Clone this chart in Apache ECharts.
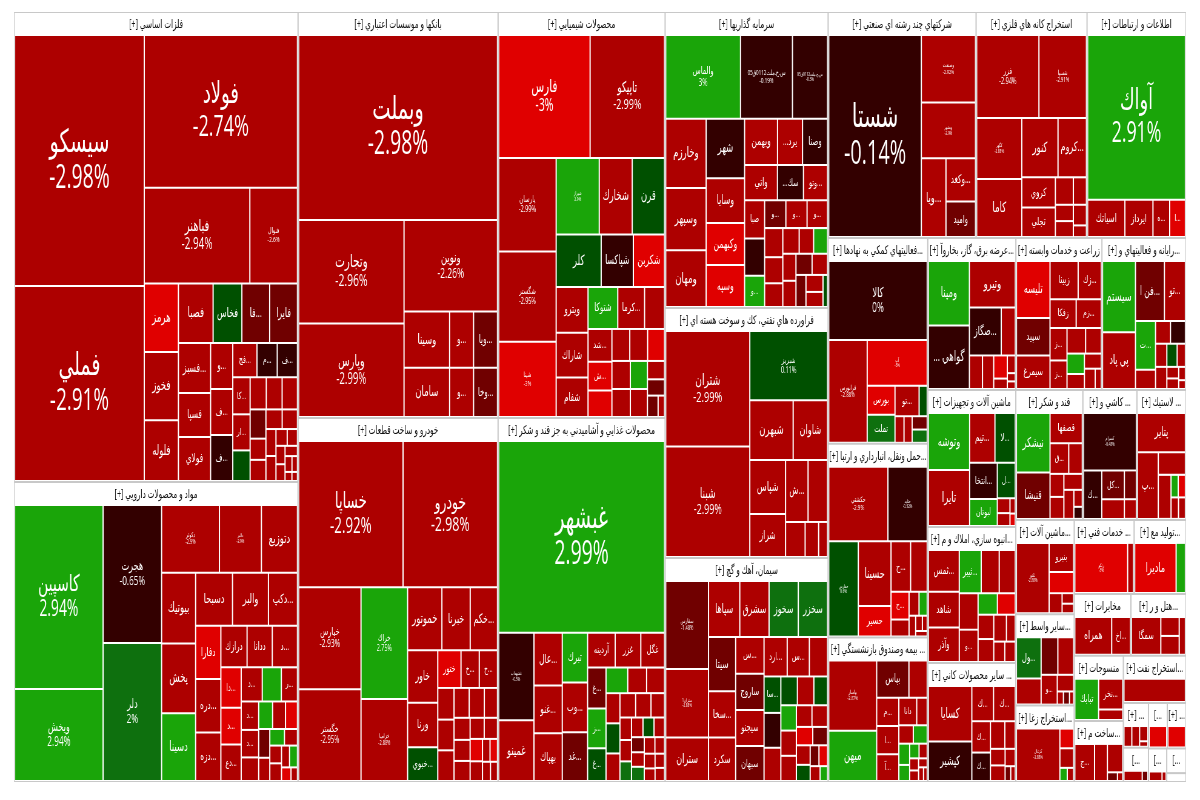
<!DOCTYPE html>
<html>
<head>
<meta charset="utf-8">
<title>نقشه بازار</title>
<script src="https://cdn.jsdelivr.net/npm/echarts@6/dist/echarts.min.js"></script>
<style>
  html, body { margin: 0; padding: 0; background: #fff; overflow: hidden; }
  /* the map was laid out wide and then squeezed, so draw it wide and squeeze it too */
  #chart { width: 1980px; height: 800px; transform: scaleX(0.60606); transform-origin: 0 0; }
</style>
</head>
<body>
<div id="chart"></div>
<script>
const metalsNames = ['سيسكو','فملي','فولاد','فباهنر','فنوال','هرمز','فخوز','فلوله','فصبا','فخاس','فا...','فايرا','فسبز...','فسپا','فولاي','و...','ف...','ف...','فج...','م...','ف...','كا...','ار...','','','','','','','','','','','','','','','','','','','',''];
const metalsValues = [32900,25500,23560,10070,4465,2244,2243,1980,1972,1624,1566,1565,1520,1333,1332,945,944,943,759,627,626,578,561,470,460,450,434,405,285,284,270,252,225,207,150,135,130,117,95,80,60,40,30];
const metalsChanges = [-2.98,-2.91,-2.74,-2.94,-2.6,-3,-2.9,-2.9,-2.9,0.5,-1.5,-1.5,-2.9,-2.9,-2.9,-2.9,-2.9,-0.5,-2.9,-0.5,-0.5,-2.9,-2.9,0.5,-2.9,-2.9,-2.9,-1.5,-2.9,-2.9,-2.9,-2.9,-2.9,-2.9,-2.9,-2.9,-2.9,-2.9,-2.9,-2.9,-2.9,-2.9,-2.9];

const pharmaNames = ['كاسپين','ويخش','هجرت','دلر','دكوثر','دالبر','دتوزيع','بيوتيك','پخش','دسينا','دسبحا','والبر','دكپ...','دفارا','دره...','دزه...','درازك','ددانا','د...','دا...','د...','دع...','د...','','ر...','د...','د...','','','','','','','','','','','','','',''];
const pharmaValues = [16104,7960,7900,7888,3762,2706,2310,2277,2244,2178,1836,1785,1428,1248,1247,1128,1000,960,959,741,665,664,640,576,480,432,416,352,325,300,275,266,210,196,171,165,164,135,133,95,60];
const pharmaChanges = [2.94,2.94,-0.65,2,-2.9,-2.9,-2.9,-2.9,-2.9,2.9,-2.9,-2.9,-2.9,-3,-2.9,-2.9,-2.9,-2.9,-2.9,-3,-3,-2.9,-2.9,2.9,-2.9,-2.9,-2.9,-2.9,2.9,-2.9,-3,-1.5,-2.9,2.9,-2.9,-2.9,-2.9,-2.9,2.9,-3,-2.9];

const banksNames = ['وبملت','وتجارت','وپارس','ونوين','وسينا','سامان','و...','و...','ويا...','وخا...'];
const banksValues = [36640,10710,9660,8372,2430,2115,1242,1081,1241,1080];
const banksChanges = [-2.98,-2.96,-2.99,-2.26,-2.9,-2.9,-2.9,-2.9,-1.5,-1.5];

const carsNames = ['خساپا','خودرو','خپارس','خگستر','خراك','خزاميا','خموتور','خبرنا','خكم...','خاور','ورنا','خبوي...','ختور','خ...','خ...','','','','','','','','','','','','','','','','',''];
const carsValues = [15141,13671,6200,5580,5060,3680,2046,1674,1612,1479,1247,928,792,612,611,450,435,434,392,391,336,300,285,270,247,231,228,198,133,132,117,100];
const carsChanges = [-2.92,-2.98,-2.93,-2.95,2.75,-2.88,-2.9,-2.9,-2.9,-2.9,-2.9,0.5,-3,-2.9,-2.9,-2.9,-2.9,-2.9,-2.9,-2.9,-2.9,-2.9,-2.9,-2.9,-2.9,-2.9,-3,-2.9,-2.9,-3,-2.9,-2.9];

const chemNames = ['فارس','تاپيكو','پارسان','شگستر','شپنا','شيراز','شخارك','قرن','كلر','شپاكسا','شكربن','ويترو','شاراك','شفام','شتوكا','كرما...','','شد...','ش...','','','','','','','','','','','',''];
const chemValues = [10890,8833,5115,4950,4100,3100,2350,2300,2200,1550,1500,1333,1302,1140,1130,1014,741,690,598,552,493,492,464,442,441,408,407,256,224,180,100];
const chemChanges = [-3,-2.99,-2.99,-2.95,-3,2.9,-2.9,0.5,0.5,-0.5,-3,-2.9,-2.9,-2.9,2.9,-2.9,-2.9,-2.9,-3,-3,-2.9,-2.9,-3,-2.9,-2.9,2.9,-2.9,-2.9,-1.5,-1.5,-2.9];

const foodNames = ['غبشهر','غشهداب','غمينو','عال...','غنو...','بهپاك','تبرك','غد...','وب...','آردينه','غزر','غگل','غ...','ز...','غ...','','','','','','','','','','','','','','','','','','','','','','','',''];
const foodValues = [31488,2924,2006,1377,1242,1241,1152,1128,1151,864,800,736,670,650,527,483,414,391,357,356,315,273,210,323,322,198,180,171,180,144,162,150,120,135,140,100,99,120,90];
const foodChanges = [2.99,-0.5,-2.9,-2.9,-2.9,-2.9,2.9,-1.5,-2.9,-2.9,-2.9,-2.9,-1.5,2.9,0.5,2.9,-2.9,-2.9,-2.9,0.5,-2.9,-2.9,-2.9,-2.9,-2.9,-2.9,-2.9,0.5,2,-2.9,-2.9,-1.5,-2.9,-2.9,2,-2.9,-2.9,-2.9,-2.9];

const investNames = ['والماس','س.ح.ملت0112ق05','س.ج.ملت0112ق05','وخارزم','وسپهر','ومهان','شهر','وسايا','وكبهمن','وسپه','وبهمن','...يرد','وصنا','واتي','...سك','وتو...','صبا','','و...','و...','و...','و...','','','','','','','','','','','','','',''];
const investValues = [6068,4182,2788,2652,2379,2160,2150,1600,1500,1499,1408,1056,1055,1054,825,759,684,665,551,520,519,500,459,408,357,368,299,298,312,288,285,266,272,208,238,108];
const investChanges = [3,-0.19,-0.3,-2.9,-2.9,-2.9,-0.5,-2.9,-3,-3,-2.9,-2.9,-0.5,-2.9,-0.5,-2.9,-2.9,-0.5,2.9,-1.5,-2.9,-2.9,-2.9,-2.9,-2.9,-2.9,2.9,-2.9,-2.4,-2.9,-1.5,-1.5,-2.9,-2.9,-2.9,0.5];

const oilNames = ['شتران','شبنا','شبريز','شبهرن','شاوان','شپاس','شراز','ش...','','','',''];
const oilValues = [9296,8881,5092,2394,1881,1768,1394,1260,1080,594,399,252];
const oilChanges = [-2.99,-2.99,0.11,-2.9,-2.9,-2.9,-2.9,-2.9,-2.9,-2.9,-2.9,-2.9];

const cementNames = ['سفارس','ستران1','ستران','سپاها','سشرق','سخوز','سخزر','سيتا','سخا...','سكرد','س...','ساروج','سيجنو','سبهان','ارد...','س...','','سا...','','','','','','','','','','','','','','','','','',''];
const cementValues = [3654,2814,1764,1650,1540,1539,1538,1378,1170,1092,960,950,940,910,836,798,646,546,520,494,416,415,338,337,336,335,286,285,252,180,144,224,140,112,223,80];
const cementChanges = [-1.48,-2.88,-2.9,-2.9,-2.9,2,2,-1.5,-2.9,-2.9,-2.9,-1.5,-2.9,-1.5,-2.9,-2.9,-2.9,0.5,-0.5,-2.9,0.5,-2.9,0.5,2.9,-2.9,-2.9,-2.9,-2.9,-3,0.5,-1.5,-1.5,-3,-2.9,-2.9,2.9];

const multiNames = ['شستا','وصنعت','وبشهر','ويا...','وكغد...','واميد'];
const multiValues = [18473,3498,2862,1817,1176,952];
const multiChanges = [-0.14,-2.92,-2.9,-2.9,-2.9,-1.5];

const oresNames = ['فزر','شسپا','كگهر','كاما','كنور','كروم...','كروي','تجلي','','','','','',''];
const oresValues = [5146,3901,2700,2565,2088,1624,950,930,442,312,250,245,228,120];
const oresChanges = [-2.94,-2.91,-2.88,-2.9,-2.9,-2.9,-2.9,-2.9,-2.9,-2.9,-2.9,-2.9,-2.9,-2.9];

const ictNames = ['آواك','اسياتك','ايرداز','ه...','ا...'];
const ictValues = [15604,1260,936,540,504];
const ictChanges = [2.91,-2.9,-2.9,-2.9,-3];

const auxNames = ['كالا','فرابورس','آپ','بورس','تو...','','تملت','','','',''];
const auxValues = [8000,4000,2750,760,690,210,740,205,182,168,167];
const auxChanges = [0,-2.88,-3,-3,-2.9,0.5,2,-2.9,-2.9,-1.5,2];

const transportNames = ['حكشتي','حتايد','حفارس','حسينا','حسير','ح...','','ح...','','','','','','',''];
const transportValues = [4234,2774,2668,1984,905,895,750,432,252,192,153,102,72,48,40];
const transportChanges = [-2.9,-0.52,0.6,-2.9,-3,-2.9,-2.9,-3,-2.9,-2.9,2.9,-2.9,-2.9,-2.9,-2.9];

const insuranceNames = ['بپاسار','ميهن','بپاس','','م...','ا...','آ...','دانا','','','','','','','','','','','',''];
const insuranceValues = [3264,2304,1116,612,560,559,525,432,240,220,210,187,136,104,88,78,66,52,44,30];
const insuranceChanges = [-2.87,2.9,-1.5,-2.9,-2.9,-2.9,-2.9,-2.9,-2.9,-2.9,2.9,2.9,2.9,2.9,-2.9,-2.9,-2.9,-2.9,-2.9,-2.9];

const powerNames = ['ومپنا','... گواهي','وتيرو','صگاز...','','','','','','','',''];
const powerValues = [2418,2379,1935,1364,572,363,306,252,102,101,40,36];
const powerChanges = [2.9,-0.5,-2.9,-0.5,-2.9,-2.9,-2.9,-3,-2.9,-2.9,-2.9,-2.9];

const farmNames = ['تليسه','سپيد','سيمرغ','زبينا','زك...','زفكا','زم...','ز...','ز...','','','','','','',''];
const farmValues = [1728,1120,992,945,770,650,624,465,405,396,330,288,200,205,168,88];
const farmChanges = [-3,-1.5,-2.9,-2.9,-2.9,-2.9,-2.9,-2.9,-2.9,-2.9,-2.9,2.9,-2.9,-2.9,-2.9,-2.9];

const itNames = ['سيستم','پي پاد','فن ا...','تو...','ت...','','','','','','','','','','',''];
const itValues = [2176,1728,1596,1140,874,323,280,279,210,200,189,147,100,90,60,36];
const itChanges = [2.9,-2.9,-1.5,-2.9,2.9,-2.9,-2.9,-0.5,-2.9,-2.9,0.5,-2.9,-2.9,-2.9,-2.9,-2.9];

const machinesNames = ['وتوشه','تايرا','تيم...','لا...','انتخا...','ل...','لبوتان','','','',''];
const machinesValues = [2160,2120,1128,893,884,544,650,143,121,52,40];
const machinesChanges = [2.9,-2.9,-2.9,0.5,-0.5,0.5,2.9,-2.9,-2.9,-2.9,-3];

const housingNames = ['ثمس...','شاهد','وآذر','ثبير...','','','','و...','','','','','','','',''];
const housingValues = [1131,957,928,819,663,585,578,510,336,308,307,288,272,180,171,160];
const housingChanges = [-2.9,-2.9,-2.9,2.9,-2.9,-2.9,-2.9,-2.9,2.9,-3,-2.9,-2.9,-2.9,-2.9,-2.9,-2.9];

const mineralsNames = ['كسايا','كپشير','ك...','ك...','ك...','ك...','','','','','','',''];
const mineralsValues = [2268,1596,680,679,510,459,338,234,195,182,135,56,42];
const mineralsChanges = [-2.9,-0.5,-2.9,-2.9,-2.9,-0.5,-2.9,-2.9,-2.9,-2.9,-2.9,-1.5,-2.9];

const sugarNames = ['نيشكر','قنيشا','قصفها','ق...','','','','','','',''];
const sugarValues = [1848,1419,868,493,348,260,247,238,234,105,70];
const sugarChanges = [2.9,-1.5,-2.9,-2.9,-2.9,-2.9,-2.9,-2.9,-2.9,-2.9,-0.5];

const tilesNames = ['كسرام','ك...','كل...','','',''];
const tilesValues = [2860,792,572,374,286,187];
const tilesChanges = [-0.48,-0.5,-1.5,-2.9,-1.5,-2.9];

const rubberNames = ['پتاير','پ...','','','','','',''];
const rubberValues = [1702,1240,525,475,120,119,118,108];
const rubberChanges = [-2.9,-2.9,-2.9,-2.9,2.9,-3,-2.9,-2.9];

const toolsNames = ['تكنو','بنيرو','','','',''];
const toolsValues = [2208,644,460,216,90,80];
const toolsChanges = [-2.88,-2.9,-3,-2.9,-2.9,-2.9];

const mediationNames = ['ول...','','','','و...','','','',''];
const mediationValues = [936,576,560,525,420,225,55,54,33];
const mediationChanges = [2,-2.9,-1.5,-2.9,-2.9,-2.9,-2.9,-1.5,-2.9];

const coalNames = ['كزغال','','','',''];
const coalValues = [2107,216,215,66,55];
const coalChanges = [-2.88,-3,-2.9,2.9,-2.9];

const techNames = ['رتكو',''];
const techValues = [2444,235];
const techChanges = [-3,-2.9];

const makersNames = ['ماديرا',''];
const makersValues = [1833,376];
const makersChanges = [-3,2.9];

const telecomNames = ['همراه','اخ...'];
const telecomValues = [1295,630];
const telecomChanges = [-2.9,-2.9];

const hotelNames = ['سمگا','','',''];
const hotelValues = [945,272,271,175];
const hotelChanges = [-2.9,-2.9,-2.9,-2.9];

const textileNames = ['تبابك','نخر...',''];
const textileValues = [897,667,207];
const textileChanges = [2.9,-2.9,-2.9];

const builtNames = ['ج...','','','',''];
const builtValues = [684,432,392,63,28];
const builtChanges = [-2.9,-2.9,-2.9,-1.5,-2.9];

const crudeNames = [''];
const crudeValues = [1140];
const crudeChanges = [-2.9];

const smallANames = ['','','',''];
const smallAValues = [133,132,98,28];
const smallAChanges = [-2.9,-2.9,-2.9,-2.9];
const smallBNames = ['',''];
const smallBValues = [180,45];
const smallBChanges = [-2.9,-1.5];
const smallCNames = [''];
const smallCValues = [240];
const smallCChanges = [-3];
const smallDNames = [''];
const smallDValues = [216];
const smallDChanges = [-3];
const smallENames = ['',''];
const smallEValues = [144,36];
const smallEChanges = [-2.9,-2.9];
const smallFNames = [''];
const smallFValues = [32];
const smallFChanges = [-2.9];

// outer size of each group, header included
const sectorTitles = ['[+] فلزات اساسي','[+] مواد و محصولات دارويي','[+] بانكها و موسسات اعتباري','[+] خودرو و ساخت قطعات','[+] محصولات شيميايي','[+] محصولات غذايي و آشاميدني به جز قند و شكر','[+] سرمايه گذاريها','[+] فراورده هاي نفتي، كك و سوخت هسته اي','[+] سيمان، آهك و گچ','[+] شركتهاي چند رشته اي صنعتي','[+] استخراج كانه هاي فلزي','[+] اطلاعات و ارتباطات','[+] فعاليتهاي كمكي به نهادها...','[+] حمل ونقل، انبارداري و ارتبا...','[+] بيمه وصندوق بازنشستگي ...','[+] عرضه برق، گاز، بخاروآ...','[+] زراعت و خدمات وابسته','[+] رايانه و فعاليتهاي و...','[+] ماشين آلات و تجهيزات','[+] انبوه سازي، املاك و م...','[+] سایر محصولات كاني ...','[+] قند و شكر','[+] كاشي و ...','[+] لاستيك ...','[+] ماشين آلات...','[+] ساير واسط...','[+] استخراج زغا...','[+] خدمات فني ...','[+] توليد مع...','[+] مخابرات','[+] هتل و ر...','[+] منسوجات','[+] ساخت م...','[+] استخراج نفت...','[+] ...','[...','[...','[+] ...','[...','[...'];
const sectorAreas = [133480,85200,81200,72800,67802,60788,48248,40750,36512,33448,25086,22374,20500,19300,14400,13376,13072,12768,12056,11968,10472,8710,7020,6370,5510,5336,4460,4440,3848,3500,3400,3200,3000,2961,1125,860,855,850,612,475];
const sectorNames = [metalsNames,pharmaNames,banksNames,carsNames,chemNames,foodNames,investNames,oilNames,cementNames,multiNames,oresNames,ictNames,auxNames,transportNames,insuranceNames,powerNames,farmNames,itNames,machinesNames,housingNames,mineralsNames,sugarNames,tilesNames,rubberNames,toolsNames,mediationNames,coalNames,techNames,makersNames,telecomNames,hotelNames,textileNames,builtNames,crudeNames,smallANames,smallBNames,smallCNames,smallDNames,smallENames,smallFNames];
const sectorValues = [metalsValues,pharmaValues,banksValues,carsValues,chemValues,foodValues,investValues,oilValues,cementValues,multiValues,oresValues,ictValues,auxValues,transportValues,insuranceValues,powerValues,farmValues,itValues,machinesValues,housingValues,mineralsValues,sugarValues,tilesValues,rubberValues,toolsValues,mediationValues,coalValues,techValues,makersValues,telecomValues,hotelValues,textileValues,builtValues,crudeValues,smallAValues,smallBValues,smallCValues,smallDValues,smallEValues,smallFValues];
const sectorChanges = [metalsChanges,pharmaChanges,banksChanges,carsChanges,chemChanges,foodChanges,investChanges,oilChanges,cementChanges,multiChanges,oresChanges,ictChanges,auxChanges,transportChanges,insuranceChanges,powerChanges,farmChanges,itChanges,machinesChanges,housingChanges,mineralsChanges,sugarChanges,tilesChanges,rubberChanges,toolsChanges,mediationChanges,coalChanges,techChanges,makersChanges,telecomChanges,hotelChanges,textileChanges,builtChanges,crudeChanges,smallAChanges,smallBChanges,smallCChanges,smallDChanges,smallEChanges,smallFChanges];
// small cells that still print their percent
const smallPctNames = ['تكنو','كزغال','رتكو'];
// tall cells that get a larger label than their area would give
const tallCellNames = ['شستا','آواك'];

const stretch = 1.65;

function changeColor(c) {
  if (c <= -3) return '#e00000';
  if (c < -2) return '#ad0000';
  if (c < -1) return '#700000';
  if (c <= 0) return '#330000';
  if (c < 1) return '#005000';
  if (c < 2.5) return '#0e700e';
  return '#1aa509';
}

function leafLabel(name, value, change) {
  if (!name) return { show: false };
  const side = Math.sqrt(value);
  if (value >= 2660 || smallPctNames.includes(name)) {
    let size = Math.min(32, Math.max(5, 0.25 * (side - 35)));
    if (tallCellNames.includes(name)) size *= 1.3;
    return { show: true, position: 'inside', formatter: name + '\n' + change + '%', fontSize: size, lineHeight: size * 1.12 };
  }
  return { show: true, position: 'inside', formatter: name, fontSize: Math.min(14, Math.max(9, 5 + 0.2 * side)) };
}

// cell sizes were read inside the white gaps, the layout wants them with the gap
function withGap(v) {
  return Math.pow(Math.sqrt(v) + 1.7, 2);
}

const treeData = sectorTitles.map((title, i) => ({
  name: title,
  value: sectorAreas[i],
  children: sectorValues[i].map((v, j) => ({
    name: sectorNames[i][j] || '-',
    value: withGap(v),
    itemStyle: { color: changeColor(sectorChanges[i][j]) },
    label: leafLabel(sectorNames[i][j], v, sectorChanges[i][j])
  }))
}));
// the leftover corner of the map has no cells
const emptyAreas = [171];
emptyAreas.forEach(a => treeData.push({ name: '', value: a, itemStyle: { color: '#fff', borderColor: '#fff' }, label: { show: false }, upperLabel: { show: false } }));

const fontStack = '"Open Sans", "DejaVu Sans", sans-serif';

const chart = echarts.init(document.getElementById('chart'));
chart.setOption({
  animation: false,
  backgroundColor: '#fff',
  series: [{
    type: 'treemap',
    left: 14 * stretch,
    top: 12,
    width: 1172 * stretch,
    height: 770,
    roam: false,
    nodeClick: false,
    silent: true,
    squareRatio: 1,
    breadcrumb: { show: false },
    visibleMin: 0,
    childrenVisibleMin: 0,
    label: { show: true, position: 'inside', color: '#fff', fontFamily: fontStack, overflow: 'none' },
    levels: [
      { itemStyle: { borderColor: '#c8c8c8', borderWidth: 1, gapWidth: 2 } },
      {
        itemStyle: { borderColor: '#fff', borderWidth: 1, gapWidth: 2 },
        upperLabel: { show: true, height: 23, position: 'inside', color: '#111', fontSize: 12, fontFamily: fontStack, overflow: 'none' }
      },
      { itemStyle: { borderWidth: 0, gapWidth: 0 } }
    ],
    data: treeData
  }]
});
window.addEventListener('resize', () => chart.resize());
</script>
</body>
</html>
